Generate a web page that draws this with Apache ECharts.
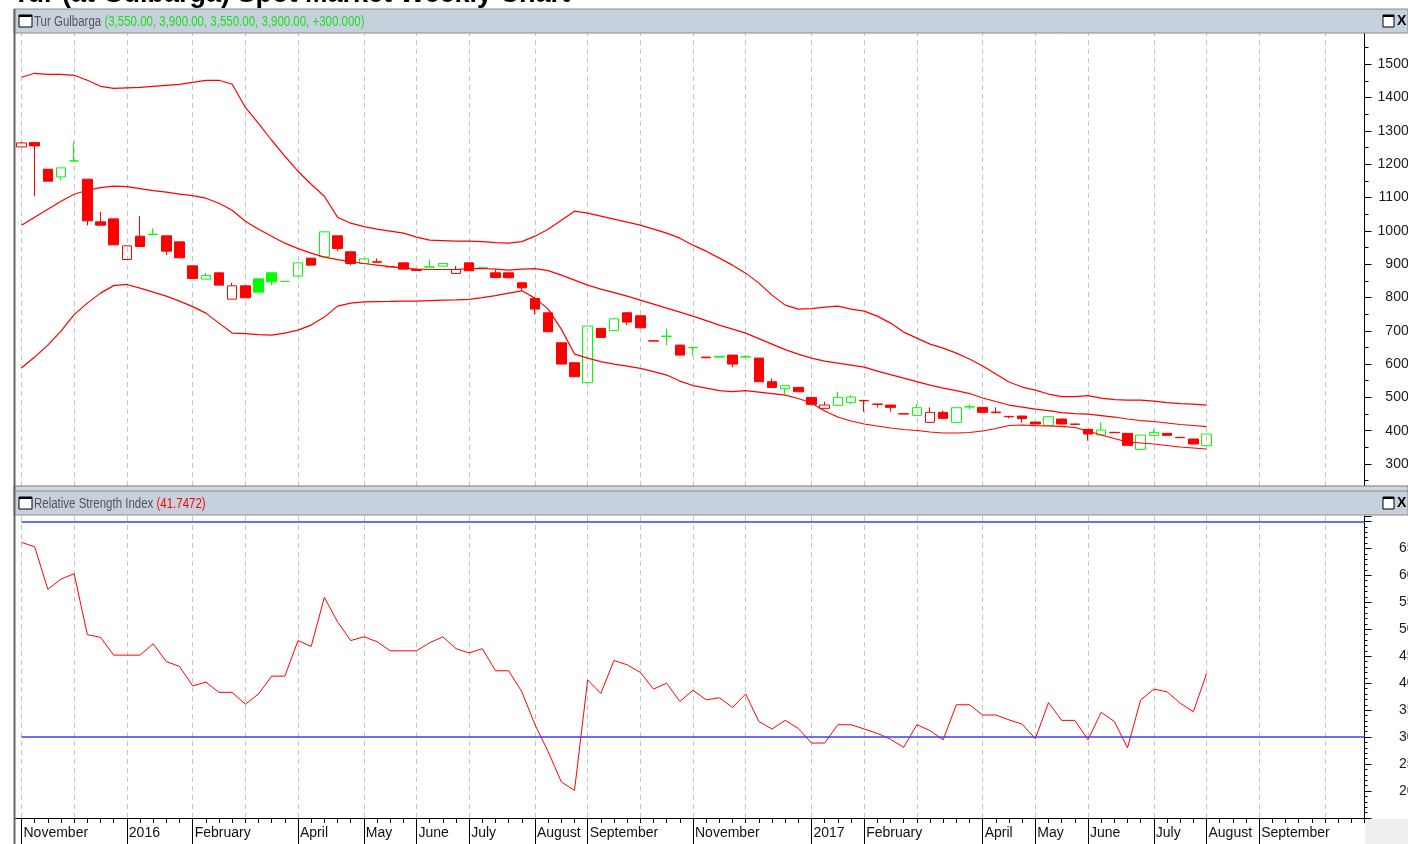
<!DOCTYPE html>
<html lang="en">
<head>
<meta charset="UTF-8">
<title>Tur Gulbarga Weekly</title>
<script src="https://cdn.jsdelivr.net/npm/echarts@6/dist/echarts.min.js"></script>
</head>
<body style="margin:0;background:#fff;">
<div id="main" style="position:absolute;left:0;top:0;width:1408px;height:844px"></div>
<script>
// weekly bars, first week of Nov 2015 .. last week of Jul 2017
var opens = [12520,12650,11850,11620,12100,11550,10270,10360,9140,9840,
  9890,9850,9670,8950,8550,8740,7950,8350,8560,8740,
  8480,8640,9180,9220,9850,9370,9020,9070,8930,9040,
  8810,8910,8940,8720,9040,8880,8740,8740,8440,7970,
  7540,6640,6040,5440,7070,7010,7540,7450,6700,6830,
  6570,6490,6210,6230,6270,6210,6180,5470,5260,5300,
  5000,4670,4760,4850,4910,4800,4770,4510,4460,4250,
  4550,4250,4710,4700,4560,4430,4440,4260,4160,4350,
  4200,4040,3870,3950,3920,3440,3860,3920,3800,3750,
  3550];
var closes = [12640,12550,11490,11890,12100,10300,10170,9580,9550,9530,
  9900,9390,9190,8570,8660,8370,8350,7990,8160,8470,
  8480,9040,8970,9970,9470,9020,9160,9060,8920,8850,
  8840,8920,9020,8840,8800,8890,8600,8590,8290,7650,
  6970,6000,5620,7140,6800,7360,7260,7090,6690,6840,
  6270,6500,6190,6210,6000,6220,5470,5300,5350,5170,
  4790,4770,5000,5010,4900,4790,4700,4500,4690,4550,
  4370,4690,4720,4550,4540,4420,4360,4200,4420,4200,
  4190,3900,4020,3940,3560,3870,3950,3860,3790,3600,
  3900];
var lows = [12510,11040,11490,11520,12100,10160,10170,9580,9140,9530,
  9890,9270,9190,8570,8550,8370,7950,7990,8160,8370,
  8480,8640,8970,9220,9390,8970,9020,9060,8920,8850,
  8810,8910,8940,8720,8800,8880,8600,8590,8200,7490,
  6970,6000,5620,5440,6800,7010,7170,7090,6690,6570,
  6270,6250,6190,6210,5900,6210,5470,5300,5090,5170,
  4750,4670,4760,4800,4570,4700,4570,4500,4460,4250,
  4370,4250,4640,4550,4540,4370,4240,4200,4160,4200,
  4190,3700,3870,3940,3560,3440,3860,3860,3790,3600,
  3550];
var highs = [12650,12660,11850,11890,12670,11550,10570,10360,9550,10440,
  10070,9850,9670,8950,8740,8740,8440,8350,8560,8740,
  8480,9040,9180,9970,9850,9370,9160,9170,8930,9040,
  8840,9140,9020,8940,9040,8890,8840,8740,8440,7970,
  7540,6640,6040,7140,7070,7360,7540,7450,6700,7070,
  6570,6500,6210,6230,6270,6270,6180,5570,5350,5300,
  5000,4870,5170,5070,4910,4800,4770,4510,4800,4700,
  4600,4690,4790,4700,4700,4430,4440,4260,4420,4350,
  4200,4040,4250,3950,3920,3870,4040,3920,3800,3750,
  3900];

// bollinger bands as drawn
var bbUpper = [14610,14730,14700,14700,14670,14520,14340,14280,14295,14310,
  14340,14370,14400,14460,14520,14520,14400,13710,13230,12720,
  12240,11790,11400,11040,10410,10230,10125,10050,9990,9930,
  9810,9720,9705,9690,9690,9675,9645,9630,9675,9840,
  10050,10320,10590,10530,10440,10350,10260,10170,10050,9930,
  9780,9570,9390,9180,8970,8730,8430,8070,7770,7650,
  7665,7710,7740,7650,7590,7440,7230,6960,6780,6600,
  6480,6330,6150,5940,5700,5460,5310,5220,5100,5025,
  5025,5055,4980,4935,4920,4920,4890,4845,4815,4800,
  4770];
var bbMiddle = [10170,10410,10650,10890,11100,11220,11295,11340,11325,11265,
  11205,11160,11100,11055,10980,10830,10620,10290,10050,9840,
  9630,9465,9330,9210,9135,9075,9020,8970,8925,8880,
  8850,8840,8840,8840,8865,8870,8850,8820,8850,8865,
  8805,8670,8520,8370,8250,8145,8040,7920,7800,7680,
  7560,7440,7305,7170,7050,6930,6765,6600,6435,6300,
  6180,6090,6030,5970,5910,5790,5685,5580,5475,5370,
  5280,5205,5115,4980,4875,4770,4710,4650,4605,4545,
  4515,4500,4455,4410,4350,4305,4275,4230,4185,4155,
  4120];
var bbLower = [5880,6210,6570,6990,7485,7830,8130,8355,8390,8280,
  8160,8040,7890,7725,7530,7230,6930,6915,6885,6870,
  6930,7020,7170,7410,7740,7830,7870,7875,7880,7890,
  7890,7905,7920,7925,7940,7995,8055,8130,8200,7980,
  7650,7050,6300,6180,6075,6000,5940,5870,5775,5670,
  5490,5355,5280,5205,5175,5200,5160,5115,5070,4965,
  4830,4590,4410,4290,4200,4140,4080,4035,4005,3960,
  3930,3930,3945,3990,4065,4155,4170,4150,4140,4130,
  4095,3990,3870,3765,3660,3630,3600,3555,3510,3480,
  3450];

var rsi = [66.1,65.3,57.4,59.3,60.3,49.0,48.5,45.2,45.2,45.2,
  47.3,44.0,43.1,39.5,40.2,38.3,38.3,36.1,38.0,41.3,
  41.3,47.9,46.8,55.9,51.4,47.9,48.6,47.7,46.0,46.0,
  46.0,47.5,48.6,46.4,45.6,46.4,42.3,42.3,38.4,32.3,
  27.3,21.7,20.1,40.6,38.1,44.2,43.4,42.0,38.9,40.0,
  36.6,38.7,36.9,37.3,35.5,38.0,32.9,31.5,33.1,31.6,
  28.9,28.9,32.3,32.3,31.5,30.7,29.6,28.1,32.3,31.2,
  29.5,36.0,36.0,34.1,34.1,33.2,32.4,29.7,36.4,33.1,
  33.1,29.5,34.6,32.9,28.0,36.9,38.9,38.4,36.3,34.7,
  41.7472];
var rsiLevels = [70, 30];

// week slots on the axis (data + empty weeks on the right)
var weekCount = 103;
var monthStarts = [0,4,8,13,17,21,26,30,34,39,43,47,51,55,60,64,68,73,77,81,86,90,94,99];
var monthLabels = {0:'November', 8:'2016', 13:'February', 21:'April', 26:'May', 30:'June',
  34:'July', 39:'August', 43:'September', 51:'November', 60:'2017', 64:'February',
  73:'April', 77:'May', 81:'June', 86:'July', 90:'August', 94:'September'};

var RED = '#ff0000', GREEN = '#00ff00';
var SANS = '"Liberation Sans", Arial, sans-serif';

var weeks = [];
for (var i = 0; i < weekCount; i++) weeks.push('w' + i);

var candles = opens.map(function (o, i) {
    var c = closes[i];
    var col = (i > 0 && c > closes[i - 1]) ? GREEN : RED;
    var fill = c > o ? 'rgba(255,255,255,0)' : col;
    return {
        value: [o, c, lows[i], highs[i]],
        itemStyle: { color: fill, color0: fill, borderColor: col, borderColor0: col, borderColorDoji: col }
    };
});

function isMonth(idx) { return monthStarts.indexOf(idx) >= 0; }
function isLabeled(idx) { return monthLabels[idx] !== undefined; }

var gridLine = { show: true, interval: isMonth, lineStyle: { color: '#c4c4c4', type: [5, 4], width: 1 } };

function header(y, name, extra, extraColor) {
    return [
        { type: 'rect', z: 100, shape: { x: 14, y: y, width: 1394, height: 24 },
          style: { fill: '#c7d1dd', stroke: '#8a8a8a', lineWidth: 1 } },
        { type: 'rect', z: 101, shape: { x: 19, y: y + 6, width: 13, height: 12 },
          style: { fill: '#fff', stroke: '#000', lineWidth: 1 } },
        { type: 'rect', z: 101, shape: { x: 19, y: y + 6, width: 13, height: 2 }, style: { fill: '#000' } },
        { type: 'text', z: 101, x: 34, y: y + 13, scaleX: 0.82,
          style: { text: '{a|' + name + ' }{b|' + extra + '}', verticalAlign: 'middle',
                   font: '14px ' + SANS,
                   rich: { a: { fill: '#555', fontSize: 14, fontFamily: SANS },
                           b: { fill: extraColor, fontSize: 14, fontFamily: SANS } } } },
        { type: 'rect', z: 101, shape: { x: 1383, y: y + 6, width: 11, height: 12 },
          style: { fill: '#fff', stroke: '#000', lineWidth: 1 } },
        { type: 'rect', z: 101, shape: { x: 1383, y: y + 6, width: 11, height: 2 }, style: { fill: '#000' } },
        { type: 'text', z: 101, x: 1397, y: y + 12,
          style: { text: 'X', font: 'bold 14px ' + SANS, fill: '#000', verticalAlign: 'middle' } }
    ];
}

var graphics = [
    { type: 'text', z: 100, x: 13, y: -5,
      style: { text: 'Tur (at Gulbarga) Spot Market Weekly Chart', font: 'bold 27px ' + SANS,
               fill: '#000', verticalAlign: 'middle' } },
    // strip between the two panes
    { type: 'rect', z: 100, shape: { x: 14, y: 486, width: 1394, height: 6 },
      style: { fill: '#d6d6d6', stroke: '#7a7a7a', lineWidth: 1 } },
    // corner under the right scale
    { type: 'rect', z: 100, shape: { x: 1365, y: 819, width: 43, height: 25 }, style: { fill: '#efefef' } },
    // left frame
    { type: 'line', z: 102, shape: { x1: 14.5, y1: 9, x2: 14.5, y2: 844 }, style: { stroke: '#666', lineWidth: 2 } },
    { type: 'line', z: 99, shape: { x1: 15, y1: 818.5, x2: 22, y2: 818.5 }, style: { stroke: '#000', lineWidth: 1 } }
].concat(header(9, 'Tur Gulbarga', '(3,550.00, 3,900.00, 3,550.00, 3,900.00, +300.000)', '#1fdc1f'))
 .concat(header(491, 'Relative Strength Index', '(41.7472)', '#ff0000'));

var chart = echarts.init(document.getElementById('main'));
chart.setOption({
    animation: false,
    backgroundColor: '#fff',
    grid: [
        { left: 21.5, right: 43.5, top: 31, height: 466.3, containLabel: false, outerBoundsMode: 'none' },
        { left: 21.5, right: 43.5, top: 516, height: 302, containLabel: false, outerBoundsMode: 'none' }
    ],
    xAxis: [
        { gridIndex: 0, type: 'category', position: 'bottom', data: weeks, boundaryGap: false,
          axisLine: { show: false }, axisTick: { show: false }, axisLabel: { show: false }, splitLine: gridLine },
        { gridIndex: 1, type: 'category', position: 'bottom', offset: 0, data: weeks, boundaryGap: false,
          axisLine: { show: true, lineStyle: { color: '#000', width: 1 } },
          axisTick: { show: true, interval: 0, length: 5, lineStyle: { color: '#000' } },
          axisLabel: { show: false }, splitLine: gridLine },
        { gridIndex: 1, type: 'category', position: 'bottom', offset: 0, data: weeks, boundaryGap: false,
          axisLine: { show: false },
          axisTick: { show: true, interval: isLabeled, length: 26, lineStyle: { color: '#000' } },
          axisLabel: { show: true, interval: isLabeled, align: 'left', margin: 8, padding: [0, 0, 0, 2],
                       color: '#111', fontFamily: SANS, fontSize: 14,
                       formatter: function (v, idx) { return monthLabels[idx] || ''; } },
          splitLine: { show: false } }
    ],
    yAxis: [
        { gridIndex: 0, type: 'value', position: 'right', min: 2000, max: 16000, interval: 1000,
          axisLine: { show: true, lineStyle: { color: '#000' } },
          axisTick: { show: true, length: 7, lineStyle: { color: '#000' } },
          minorTick: { show: true, splitNumber: 2, length: 4, lineStyle: { color: '#000' } },
          splitLine: { show: false },
          axisLabel: { align: 'right', margin: 52, color: '#1a1a1a', fontFamily: SANS, fontSize: 14,
                       formatter: function (v) { return (v >= 3000 && v <= 15000) ? String(v) : ''; } } },
        { gridIndex: 1, type: 'value', position: 'right', min: 15, max: 71, interval: 5,
          axisLine: { show: true, lineStyle: { color: '#000' } },
          axisTick: { show: true, length: 7, lineStyle: { color: '#000' } },
          minorTick: { show: true, splitNumber: 5, length: 3, lineStyle: { color: '#000' } },
          splitLine: { show: false },
          axisLabel: { align: 'right', margin: 50, color: '#1a1a1a', fontFamily: SANS, fontSize: 14,
                       formatter: function (v) { return (v >= 20 && v <= 65) ? String(v) : ''; } } }
    ],
    series: [
        { type: 'line', xAxisIndex: 0, yAxisIndex: 0, data: bbUpper, symbol: 'none', silent: true,
          lineStyle: { color: RED, width: 1.2 } },
        { type: 'line', xAxisIndex: 0, yAxisIndex: 0, data: bbMiddle, symbol: 'none', silent: true,
          lineStyle: { color: RED, width: 1.2 } },
        { type: 'line', xAxisIndex: 0, yAxisIndex: 0, data: bbLower, symbol: 'none', silent: true,
          lineStyle: { color: RED, width: 1.2 } },
        { type: 'candlestick', xAxisIndex: 0, yAxisIndex: 0, data: candles, barWidth: 10, clip: false,
          itemStyle: { borderWidth: 1 } },
        { type: 'line', xAxisIndex: 1, yAxisIndex: 1, data: rsi, symbol: 'none', silent: true,
          lineStyle: { color: RED, width: 1 },
          markLine: { silent: true, symbol: 'none', label: { show: false },
                      lineStyle: { color: '#3c3cff', width: 1.5, type: 'solid' },
                      data: rsiLevels.map(function (v) { return { yAxis: v }; }) } }
    ],
    graphic: graphics
});
</script>
</body>
</html>
